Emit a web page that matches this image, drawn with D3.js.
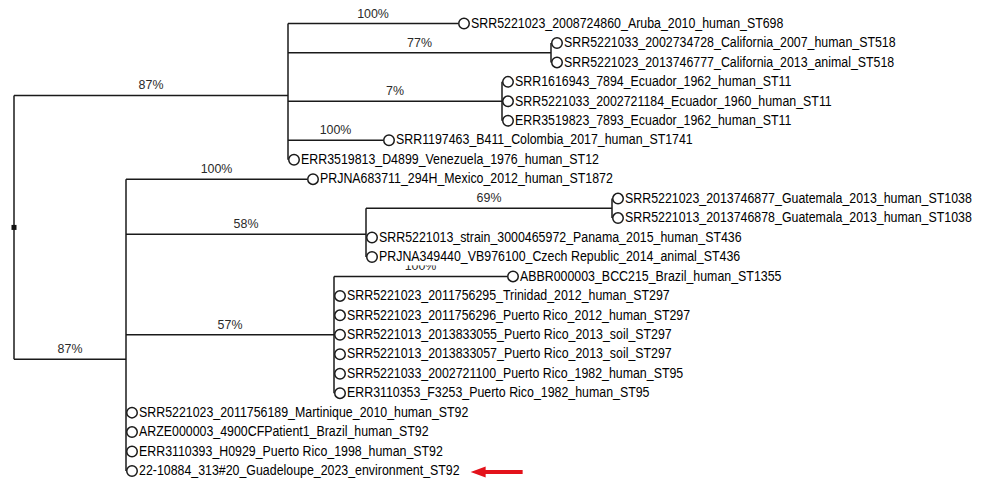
<!DOCTYPE html>
<html>
<head>
<meta charset="utf-8">
<script src="https://cdn.jsdelivr.net/npm/d3@7"></script>
<style>
	body { margin: 0; background: #fff; }
	.branch { stroke: #1a1a1a; stroke-width: 1.5; fill: none; }
	.tip { stroke: #1a1a1a; stroke-width: 1.5; fill: #fff; }
	.taxon { font-family: "Liberation Sans", Arial, sans-serif; font-size: 14px; fill: #000; }
	.support { font-family: "Liberation Sans", Arial, sans-serif; font-size: 13.5px; fill: #2a2a2a; }
</style>
</head>
<body>
<div class="graphic"></div>
<script>
var width = 989;
var height = 478;

// tree topology, in drawing order
var nodeId = ["root","A","aruba","calNode","cal1","cal2","ecuNode","ecu1","ecu2","ecu3","colombia","venezuela",
	"B","mexico","C","D","guat1","guat2","panama","czech","E","abbr","trinidad","pr2012","pr2013a","pr2013b",
	"pr1982a","pr1982b","martinique","brazil","pr1998","guadeloupe"];
var parentId = ["","root","A","A","calNode","calNode","A","ecuNode","ecuNode","ecuNode","A","A",
	"root","B","B","C","D","D","C","C","B","E","E","E","E","E",
	"E","E","B","B","B","B"];
// branch lengths (substitutions/site)
var branchLength = [0,0.0274,0.0170,0.0263,0,0,0.0214,0,0,0,0.0095,0,
	0.0112,0.0181,0.0240,0.0246,0,0,0,0,0.0208,0.0173,0,0,0,0,
	0,0,0,0,0,0];
// bootstrap support (%), null = not shown
var bootstrap = [null,87,100,77,null,null,7,null,null,null,100,null,
	87,100,58,69,null,null,null,null,57,100,null,null,null,null,
	null,null,null,null,null,null];
var taxonName = ["","",
	"SRR5221023_2008724860_Aruba_2010_human_ST698",
	"",
	"SRR5221033_2002734728_California_2007_human_ST518",
	"SRR5221023_2013746777_California_2013_animal_ST518",
	"",
	"SRR1616943_7894_Ecuador_1962_human_ST11",
	"SRR5221033_2002721184_Ecuador_1960_human_ST11",
	"ERR3519823_7893_Ecuador_1962_human_ST11",
	"SRR1197463_B411_Colombia_2017_human_ST1741",
	"ERR3519813_D4899_Venezuela_1976_human_ST12",
	"",
	"PRJNA683711_294H_Mexico_2012_human_ST1872",
	"","",
	"SRR5221023_2013746877_Guatemala_2013_human_ST1038",
	"SRR5221013_2013746878_Guatemala_2013_human_ST1038",
	"SRR5221013_strain_3000465972_Panama_2015_human_ST436",
	"PRJNA349440_VB976100_Czech Republic_2014_animal_ST436",
	"",
	"ABBR000003_BCC215_Brazil_human_ST1355",
	"SRR5221023_2011756295_Trinidad_2012_human_ST297",
	"SRR5221023_2011756296_Puerto Rico_2012_human_ST297",
	"SRR5221013_2013833055_Puerto Rico_2013_soil_ST297",
	"SRR5221013_2013833057_Puerto Rico_2013_soil_ST297",
	"SRR5221033_2002721100_Puerto Rico_1982_human_ST95",
	"ERR3110353_F3253_Puerto Rico_1982_human_ST95",
	"SRR5221023_2011756189_Martinique_2010_human_ST92",
	"ARZE000003_4900CFPatient1_Brazil_human_ST92",
	"ERR3110393_H0929_Puerto Rico_1998_human_ST92",
	"22-10884_313#20_Guadeloupe_2023_environment_ST92"];
var highlighted = "guadeloupe";

var rows = nodeId.map(function(id, i){
	return {id: id, parent: parentId[i], len: branchLength[i], support: bootstrap[i], name: taxonName[i]};
});
var root = d3.stratify()
	.id(function(d){ return d.id; })
	.parentId(function(d){ return d.parent || null; })(rows);

var leaves = root.leaves();
var x = d3.scaleLinear().domain([0, 0.06]).range([14, 614]);
var y = d3.scaleLinear().domain([0, leaves.length - 1]).range([23.5, 471]);

// cumulative distance from the root
root.eachBefore(function(n){
	n.dist = n.parent ? n.parent.dist + n.data.len : 0;
});
leaves.forEach(function(n, i){ n.row = i; n.py = y(i); });
root.eachAfter(function(n){
	if (n.children) n.py = d3.mean(n.children, function(c){ return c.py; });
});

var svg = d3.select("div.graphic").append("svg")
	.attr("width", width)
	.attr("height", height);

var nodes = root.descendants();
var edges = nodes.filter(function(n){ return n.parent && n.data.len > 0; });
var internals = nodes.filter(function(n){ return n.children; });

var tree = svg.append("g");
// horizontal branches
tree.selectAll("line.h")
	.data(edges)
	.enter()
	.append("line")
	.attr("class", "branch")
	.attr("x1", function(n){ return x(n.parent.dist); })
	.attr("x2", function(n){ return x(n.dist); })
	.attr("y1", function(n){ return n.py; })
	.attr("y2", function(n){ return n.py; });
// vertical connectors
tree.selectAll("line.v")
	.data(internals)
	.enter()
	.append("line")
	.attr("class", "branch")
	.attr("x1", function(n){ return x(n.dist); })
	.attr("x2", function(n){ return x(n.dist); })
	.attr("y1", function(n){ return n.children[0].py; })
	.attr("y2", function(n){ return n.children[n.children.length - 1].py; });

// root marker
svg.append("rect")
	.attr("x", x(0) - 2.5)
	.attr("y", root.py - 2.5)
	.attr("width", 5)
	.attr("height", 5)
	.attr("fill", "#111");

// bootstrap values above branches
svg.append("g").selectAll("text")
	.data(edges.filter(function(n){ return n.data.support != null; }))
	.enter()
	.append("text")
	.attr("class", "support")
	.attr("text-anchor", "middle")
	.attr("transform", function(n){
		var mx = (x(n.parent.dist) + x(n.dist)) / 2;
		return "translate(" + mx + "," + (n.py - 6) + ") scale(0.92,1)";
	})
	.text(function(n){ return n.data.support + "%"; });

// tips
var tips = svg.append("g").selectAll("g")
	.data(leaves)
	.enter()
	.append("g");
tips.append("circle")
	.attr("class", "tip")
	.attr("cx", function(n){ return x(n.dist) + 6; })
	.attr("cy", function(n){ return n.py; })
	.attr("r", 5.25);

var labels = tips.append("g")
	.attr("transform", function(n){
		return "translate(" + (x(n.dist) + 13) + "," + n.py + ") scale(0.885,1)";
	});
labels.append("rect").attr("fill", "#fff");
var texts = labels.append("text")
	.attr("class", "taxon")
	.attr("dy", "0.3em")
	.text(function(n){ return n.data.name; });
texts.each(function(n){
	var b = this.getBBox();
	n.labelWidth = b.width * 0.885;
	d3.select(this.previousSibling)
		.attr("x", b.x).attr("y", b.y)
		.attr("width", b.width).attr("height", b.height + 1);
});

// red arrow pointing at the new isolate
var target = leaves.filter(function(n){ return n.id == highlighted; })[0];
var ax = x(target.dist) + 13 + target.labelWidth + 11;
var ay = target.py + 1;
svg.append("path")
	.attr("fill", "#e3121b")
	.attr("d", "M" + ax + "," + ay +
		"L" + (ax + 15) + "," + (ay - 5.5) +
		"L" + (ax + 15) + "," + (ay - 2) +
		"L" + (ax + 52) + "," + (ay - 2) +
		"L" + (ax + 52) + "," + (ay + 2) +
		"L" + (ax + 15) + "," + (ay + 2) +
		"L" + (ax + 15) + "," + (ay + 5.5) + "Z");
</script>
</body>
</html>
